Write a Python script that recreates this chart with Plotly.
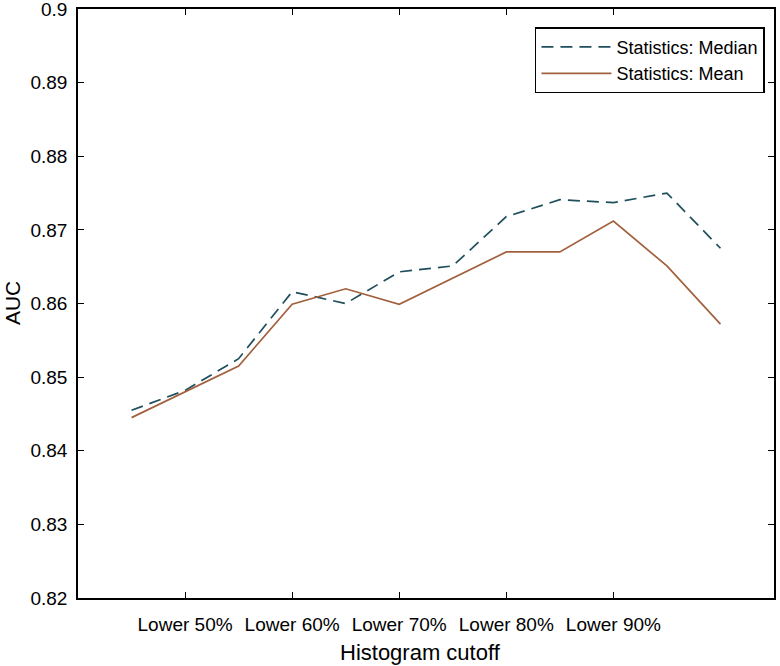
import plotly.graph_objects as go

cutoff_pct = [45, 50, 55, 60, 65, 70, 75, 80, 85, 90, 95, 100]
auc_median = [0.8455, 0.8482, 0.8525, 0.8616, 0.8600, 0.8643, 0.8651, 0.8718, 0.8741, 0.8737, 0.8750, 0.8675]
auc_mean = [0.8445, 0.8480, 0.8515, 0.8599, 0.8620, 0.8599, 0.8635, 0.8670, 0.8670, 0.8712, 0.8651, 0.8572]

x_tick_vals = [50, 60, 70, 80, 90]
x_tick_text = ["Lower 50%", "Lower 60%", "Lower 70%", "Lower 80%", "Lower 90%"]
y_tick_vals = [0.82, 0.83, 0.84, 0.85, 0.86, 0.87, 0.88, 0.89, 0.90]
y_tick_text = ["0.82", "0.83", "0.84", "0.85", "0.86", "0.87", "0.88", "0.89", "0.9"]
x_title = "Histogram cutoff"
y_title = "AUC"

FONT = "Liberation Sans, Arial, sans-serif"

fig = go.Figure()
fig.add_trace(go.Scatter(
    x=cutoff_pct, y=auc_median, mode="lines", name="Statistics: Median",
    line=dict(color="#1f4f5c", width=1.7, dash="12px,7px"),
))
fig.add_trace(go.Scatter(
    x=cutoff_pct, y=auc_mean, mode="lines", name="Statistics: Mean",
    line=dict(color="#a2603d", width=1.7),
))

fig.update_layout(
    width=780, height=666,
    margin=dict(l=78, r=6, t=9, b=68, autoexpand=False),
    paper_bgcolor="white", plot_bgcolor="white",
    font=dict(family=FONT, color="black", size=18),
    showlegend=True,
    legend=dict(
        x=0.987, y=0.969, xanchor="right", yanchor="top",
        bgcolor="white", bordercolor="black", borderwidth=1.5,
        font=dict(family=FONT, size=18, color="black"),
        itemwidth=70, tracegroupgap=0,
    ),
    xaxis=dict(
        range=[40, 105], tickmode="array", tickvals=x_tick_vals, ticktext=x_tick_text,
        ticks="inside", ticklen=6, tickwidth=1.3, tickcolor="black",
        showline=True, linecolor="black", linewidth=1.5, mirror="ticks",
        showgrid=False, zeroline=False, automargin=False,
        ticklabeloverflow="allow", ticklabelstandoff=8,
        tickfont=dict(family=FONT, size=19),
    ),
    yaxis=dict(
        range=[0.8199999, 0.9000001], tickmode="array", tickvals=y_tick_vals, ticktext=y_tick_text,
        ticks="inside", ticklen=6, tickwidth=1.3, tickcolor="black",
        showline=True, linecolor="black", linewidth=1.5, mirror="ticks",
        showgrid=False, zeroline=False, automargin=False,
        ticklabeloverflow="allow", ticklabelstandoff=5,
        tickfont=dict(family=FONT, size=19),
    ),
    annotations=[
        dict(text=x_title, xref="paper", yref="paper", x=0.4914, y=-0.0917,
             xanchor="center", yanchor="middle", showarrow=False,
             font=dict(family=FONT, size=22, color="black")),
        dict(text=y_title, xref="paper", yref="paper", x=-0.094, y=0.5,
             xanchor="center", yanchor="middle", showarrow=False, textangle=-90,
             font=dict(family=FONT, size=21, color="black")),
    ],
)

fig.write_html(
    "out.html",
    config={"displayModeBar": False},
    post_script="document.body.style.margin='0';document.body.style.overflow='hidden';",
)
